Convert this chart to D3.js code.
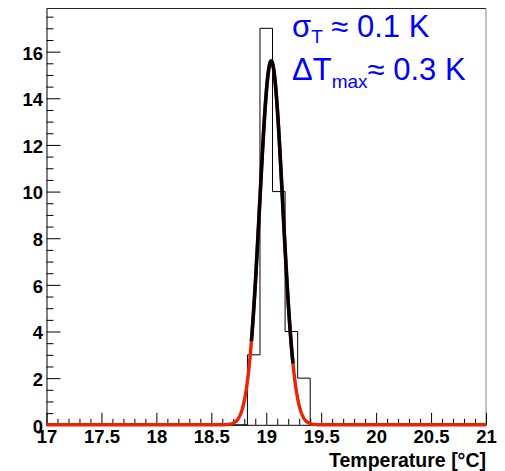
<!DOCTYPE html>
<html>
<head>
<meta charset="utf-8">
<script src="https://cdn.jsdelivr.net/npm/d3@7"></script>
<style>
  body { margin: 0; background: #fff; }
  svg { display: block; }
  .tick text { font-family: "Liberation Sans", Arial, sans-serif; font-weight: bold; font-size: 18.5px; fill: #000; }
</style>
</head>
<body>
<div id="chart"></div>
<script>
// histogram: 35 bins between 17 and 21 degC
const binLow = 17;
const binHigh = 21;
const nBins = 35;
const binCounts = [0,0,0,0,0,0,0,0,0,0, 0,0,0,0,0,0,3,17,10,4, 2,0,0,0,0,0,0,0,0,0, 0,0,0,0,0];

// gaussian fit
const fitConst = 15.6;
const fitMean = 19.045;
const fitSigma = 0.105;
const fitRange = [18.865, 19.245];

const xTicks = [17, 17.5, 18, 18.5, 19, 19.5, 20, 20.5, 21];
const yTicks = [0, 2, 4, 6, 8, 10, 12, 14, 16];

const W = 505, H = 471;
const padL = 46.5, padR = 486, padT = 8.5, padB = 424.8;

const svg = d3.select("#chart").append("svg")
  .attr("width", W).attr("height", H);

const x = d3.scaleLinear().domain([binLow, binHigh]).range([padL, padR]);
const y = d3.scaleLinear().domain([0, 17 * 1.05]).range([padB, padT]);

// frame top/right
svg.append("line").attr("x1", padL).attr("x2", padR).attr("y1", padT).attr("y2", padT)
  .attr("stroke", "#222").attr("stroke-width", 1);
svg.append("line").attr("x1", padR).attr("x2", padR).attr("y1", padT).attr("y2", padB)
  .attr("stroke", "#888").attr("stroke-width", 1);

// minor ticks
const yMinor = d3.range(0, 18, 0.5).filter(v => v % 2 !== 0);
svg.append("g").attr("transform", `translate(${padL},0)`)
  .call(d3.axisLeft(y).tickValues(yMinor).tickSize(-7).tickSizeOuter(0).tickFormat(""))
  .call(g => g.select(".domain").remove());
const xMinor = d3.range(0, 41).map(i => binLow + i * 0.1).filter(v => Math.abs(v * 2 - Math.round(v * 2)) > 1e-6);
svg.append("g").attr("transform", `translate(0,${padB})`)
  .call(d3.axisBottom(x).tickValues(xMinor).tickSize(-6).tickSizeOuter(0).tickFormat(""))
  .call(g => g.select(".domain").remove());

// major axes
const yAxis = svg.append("g").attr("transform", `translate(${padL},0)`)
  .call(d3.axisLeft(y).tickValues(yTicks).tickSize(-14).tickSizeOuter(0).tickPadding(3.5).tickFormat(d3.format("d")));
yAxis.select(".domain").attr("stroke", "#000");
yAxis.selectAll(".tick text").attr("dy", "0.4em");

const xAxis = svg.append("g").attr("transform", `translate(0,${padB})`)
  .call(d3.axisBottom(x).tickValues(xTicks).tickSize(-12).tickSizeOuter(0).tickPadding(5).tickFormat(d => d));

// histogram outline
const bw = (binHigh - binLow) / nBins;
const histPts = [[binLow, 0]];
binCounts.forEach((c, i) => {
  histPts.push([binLow + i * bw, c]);
  histPts.push([binLow + (i + 1) * bw, c]);
});
histPts.push([binHigh, 0]);
svg.append("path")
  .attr("d", d3.line().x(d => x(d[0])).y(d => y(d[1]))(histPts))
  .attr("fill", "none").attr("stroke", "#000").attr("stroke-width", 1);

// fit function
const gaus = t => fitConst * Math.exp(-0.5 * ((t - fitMean) / fitSigma) ** 2);
const fitLine = d3.line().x(d => x(d)).y(d => y(gaus(d)));
svg.append("path")
  .attr("d", fitLine(d3.range(binLow, binHigh + 0.0001, 0.004)))
  .attr("fill", "none").attr("stroke", "#ee2200").attr("stroke-width", 3.4);
svg.append("path")
  .attr("d", fitLine(d3.range(fitRange[0], fitRange[1], 0.003)))
  .attr("fill", "none").attr("stroke", "#000").attr("stroke-width", 3.6);

// annotation
const note = svg.append("g").attr("fill", "#0000ff")
  .style("font-family", "'Liberation Sans', Arial, sans-serif");
const t1 = note.append("text").attr("x", 292).attr("y", 37).attr("font-size", 31);
t1.append("tspan").text("σ");
t1.append("tspan").attr("font-size", 19).attr("dy", 6).text("T");
t1.append("tspan").attr("dy", -6).text(" ≈ 0.1 K");
const t2 = note.append("text").attr("x", 292).attr("y", 80).attr("font-size", 31);
t2.append("tspan").text("ΔT");
t2.append("tspan").attr("font-size", 19).attr("dy", 8).text("max");
t2.append("tspan").attr("dy", -8).text("≈ 0.3 K");

// axis title
svg.append("text").attr("x", 486).attr("y", 467).attr("text-anchor", "end")
  .style("font-family", "'Liberation Sans', Arial, sans-serif")
  .style("font-weight", "bold").style("font-size", "19.5px")
  .text("Temperature [°C]");
</script>
</body>
</html>
